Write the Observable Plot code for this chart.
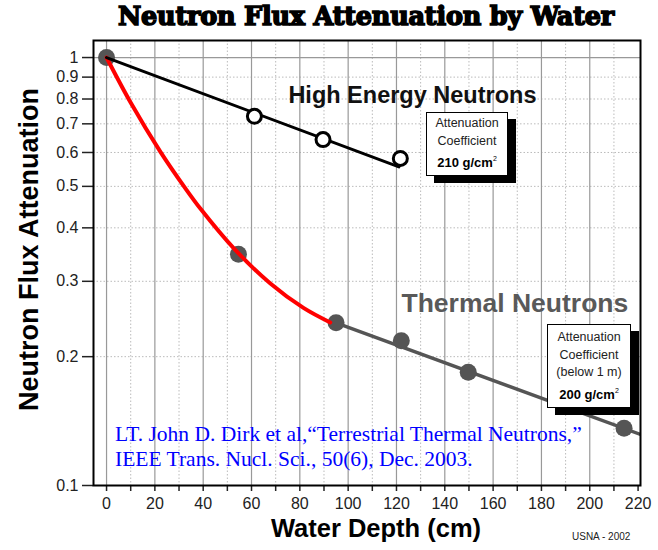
<!DOCTYPE html>
<html>
<head>
<meta charset="utf-8">
<script src="https://cdn.jsdelivr.net/npm/d3@7"></script>
<script src="https://cdn.jsdelivr.net/npm/@observablehq/plot@0.6"></script>
<style>
  html, body { margin: 0; padding: 0; background: #fff; }
  #wrap { position: relative; width: 658px; height: 550px; font-family: "Liberation Sans", Arial, sans-serif; }
  #wrap svg { position: absolute; left: 0; top: 0; }
  .ov { position: absolute; white-space: nowrap; }
  .title { left: 0; width: 732px; top: 2px; text-align: center; font-family: "DejaVu Serif", serif; font-weight: 900; font-size: 25.5px; -webkit-text-stroke: 1.6px #000; color: #000; letter-spacing: -0.2px; line-height: 1.1; }
  .box { position: absolute; background: #fff; border: 1px solid #000; box-shadow: 8px 7px 0 #000; text-align: center; font-size: 12.5px; color: #222; line-height: 17.5px; box-sizing: border-box; }
  .box b { font-size: 13px; color: #000; }
  .box sup { font-size: 7px; vertical-align: 6px; font-weight: normal; }
  .cite { left: 115px; font-family: "Liberation Serif", "Times New Roman", serif; font-size: 21.5px; color: #0000ff; line-height: 1.05; }
  .ylab { font-weight: bold; font-size: 27px; color: #000; transform: rotate(-90deg); transform-origin: center; line-height: 1; }
</style>
</head>
<body>
<div id="wrap"></div>
<script>
// ---- data ----
const highX = [61.2, 89.6, 121.6];
const highY = [0.729, 0.643, 0.581];
const highFitX = [0, 121];
const highFitY = [1, 0.555];
const thermX = [0, 54.6, 95, 122, 149.7, 214.2];
const thermY = [1, 0.347, 0.240, 0.218, 0.184, 0.136];
const redX = [0, 9.9, 22.3, 32.7, 38.9, 52.5, 67.8, 81.5, 92.6];
const redY = [1, 0.786, 0.602, 0.494, 0.443, 0.359, 0.2965, 0.260, 0.2404];
const grayX = [95, 221];
const grayY = [0.24, 0.1316];
const yTicks = [0.1, 0.2, 0.3, 0.4, 0.5, 0.6, 0.7, 0.8, 0.9, 1];
const yMinor = [0.2, 0.3, 0.4, 0.5, 0.6, 0.7, 0.8, 0.9];
const xMajor = [0, 20, 40, 60, 80, 100, 120, 140, 160, 180, 200];
const xMinor = [10, 30, 50, 70, 90, 110, 130, 150, 170, 190, 210];
const xTicks = [0, 10, 20, 30, 40, 50, 60, 70, 80, 90, 100, 110, 120, 130, 140, 150, 160, 170, 180, 190, 200, 210, 220];

const zip = (xs, ys) => xs.map((x, i) => ({x, y: ys[i]}));
const high = zip(highX, highY), highFit = zip(highFitX, highFitY);
const therm = zip(thermX, thermY), red = zip(redX, redY), gray = zip(grayX, grayY);

const chart = Plot.plot({
  width: 658, height: 550,
  marginLeft: 93, marginRight: 18, marginTop: 40, marginBottom: 65,
  style: {fontFamily: "'Liberation Sans', Arial, sans-serif", background: "transparent"},
  x: {domain: [-5.4, 221]},
  y: {type: "log", domain: [0.1, 1.096]},
  marks: [
    Plot.ruleX(xMinor, {stroke: "#bbb", strokeDasharray: "1.5,2", strokeWidth: 1}),
    Plot.ruleY(yMinor, {stroke: "#bbb", strokeDasharray: "1.5,2", strokeWidth: 1}),
    Plot.ruleX(xMajor, {stroke: "#999", strokeWidth: 1.2}),
    Plot.ruleY([1], {stroke: "#999", strokeWidth: 1.2}),
    Plot.axisY({ticks: yTicks, tickSize: 11, tickPadding: 4, fontSize: 16, tickFormat: d => String(d), label: null, strokeWidth: 1.5, color: "#222"}),
    Plot.axisX({ticks: xTicks, tickSize: 6, tickPadding: 6, fontSize: 16, tickFormat: d => d % 20 === 0 ? String(d) : "", label: null, strokeWidth: 1.5, color: "#222"}),
    Plot.line(gray, {x: "x", y: "y", stroke: "#555", strokeWidth: 3.5, clip: true}),
    Plot.dot(therm, {x: "x", y: "y", r: 8.5, fill: "#555", stroke: "none"}),
    Plot.line(red, {x: "x", y: "y", stroke: "#ff0000", strokeWidth: 4, curve: "catmull-rom"}),
    Plot.line(highFit, {x: "x", y: "y", stroke: "#000", strokeWidth: 3}),
    Plot.dot(high, {x: "x", y: "y", r: 7, fill: "#fff", stroke: "#000", strokeWidth: 3}),
    Plot.text(["High Energy Neutrons"], {x: 126.6, y: 0.815, text: d => d, fontSize: 23.5, fontWeight: "bold", fill: "#111"}),
    Plot.text(["Thermal Neutrons"], {x: 169, y: 0.266, text: d => d, fontSize: 26.5, fontWeight: "bold", fill: "#595959"}),
    Plot.frame({stroke: "#000", strokeWidth: 2})
  ]
});

const wrap = document.getElementById("wrap");
wrap.appendChild(chart);

function ov(html, cls, style) {
  const d = document.createElement("div");
  d.className = cls;
  d.innerHTML = html;
  Object.assign(d.style, style);
  wrap.appendChild(d);
  return d;
}
ov("Neutron Flux Attenuation by Water", "ov title", {});
ov("Attenuation<br>Coefficient<br><b>210 g/cm<sup>2</sup></b>", "box", {left: "426px", top: "112px", width: "82px", height: "64px", paddingTop: "2px"});
ov("Attenuation<br>Coefficient<br>(below 1 m)<br><b>200 g/cm<sup>2</sup></b>", "box", {left: "547px", top: "324px", width: "84px", height: "84px", paddingTop: "4px"});
ov("LT. John D. Dirk et al,“Terrestrial Thermal Neutrons,”", "ov cite", {top: "423px"});
ov("IEEE Trans. Nucl. Sci., 50(6), Dec. 2003.", "ov cite", {top: "448px"});
ov("Water Depth (cm)", "ov", {left: "0px", width: "752px", top: "516px", textAlign: "center", fontWeight: "bold", fontSize: "25.5px", lineHeight: "1", color: "#000"});
ov("USNA - 2002", "ov", {left: "572px", top: "532px", fontSize: "10px", lineHeight: "1", color: "#222"});
const yl = ov("Neutron Flux Attenuation", "ov ylab", {});
const w = yl.offsetWidth, h = yl.offsetHeight;
yl.style.left = (29 - w / 2) + "px";
yl.style.top = (249 - h / 2) + "px";
</script>
</body>
</html>
